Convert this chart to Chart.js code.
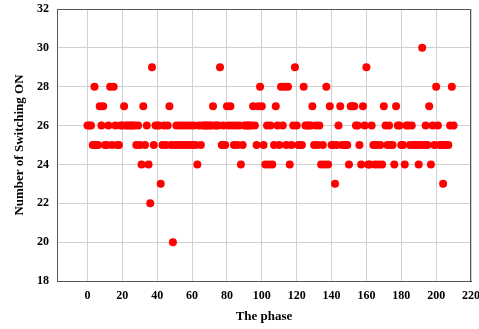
<!DOCTYPE html>
<html>
<head>
<meta charset="utf-8">
<script src="https://cdn.jsdelivr.net/npm/chart.js@4.4.1/dist/chart.umd.min.js"></script>
<style>
  html, body { margin: 0; padding: 0; background: #fff; }
  #wrap { width: 479px; height: 329px; }
</style>
</head>
<body>
<div id="wrap"><canvas id="chart" width="479" height="329"></canvas></div>
<script>
// Number of switching ON for each phase (phase = index 0..210)
const switchingOn = [
  26, 26, 26, 25, 28, 25, 25, 27, 26, 27, 25, 25, 26, 28, 25, 28, 26, 25, 25, 26,
  26, 27, 26, 26, 26, 26, 26, 26, 25, 26, 25, 24, 27, 25, 26, 24, 22, 29, 25, 26,
  26, 26, 23, 25, 26, 25, 26, 27, 25, 20, 25, 26, 25, 26, 25, 26, 25, 26, 25, 26,
  25, 26, 25, 24, 26, 25, 26, 26, 26, 26, 26, 26, 27, 26, 26, 26, 29, 25, 26, 25,
  27, 26, 27, 26, 25, 26, 25, 26, 24, 25, 26, 26, 26, 26, 26, 27, 26, 25, 27, 28,
  27, 25, 24, 26, 24, 26, 24, 25, 27, 26, 25, 28, 26, 28, 25, 28, 24, 25, 26, 29,
  26, 25, 25, 25, 28, 26, 26, 26, 26, 27, 25, 26, 25, 26, 24, 25, 24, 28, 24, 27,
  25, 25, 23, 25, 26, 27, 25, 25, 25, 25, 24, 27, 27, 27, 26, 26, 25, 24, 27, 26,
  29, 24, 24, 26, 25, 24, 25, 24, 25, 24, 27, 26, 25, 26, 25, 25, 24, 27, 26, 26,
  25, 25, 24, 26, 26, 25, 26, 25, 25, 25, 24, 25, 30, 25, 26, 25, 27, 24, 26, 25,
  28, 26, 25, 25, 23, 25, 25, 25, 26, 28, 26
];

const xTicks = [0, 20, 40, 60, 80, 100, 120, 140, 160, 180, 200, 220];
const yTicks = [18, 20, 22, 24, 26, 28, 30, 32];

const points = switchingOn.map((v, i) => ({ x: i, y: v }));

const tickFont = { family: "'Liberation Serif', 'Times New Roman', serif", size: 12, weight: 'bold' };
const titleFont = { family: "'Liberation Serif', 'Times New Roman', serif", size: 13, weight: 'bold' };

new Chart(document.getElementById('chart'), {
    type: 'scatter',
    data: {
        datasets: [{
            data: points,
            backgroundColor: '#ff0000',
            borderWidth: 0,
            pointRadius: 4,
            pointHoverRadius: 4
        }]
    },
    options: {
        responsive: false,
        animation: false,
        layout: { padding: { left: 8, right: 8, top: 9, bottom: 0 } },
        plugins: {
            legend: { display: false },
            tooltip: { enabled: false }
        },
        scales: {
            x: {
                type: 'linear',
                min: -17.5,
                max: 220,
                afterBuildTicks: axis => { axis.ticks = xTicks.map(v => ({ value: v })); },
                afterFit: axis => {
                    axis.height = 48;
                    axis.paddingLeft = 0;
                    axis.paddingRight = 0;
                },
                border: { color: '#333', width: 1 },
                grid: { color: '#d0d0d0', lineWidth: 1, drawTicks: false },
                ticks: { color: '#000', font: tickFont, padding: 8, maxRotation: 0 },
                title: { display: true, text: 'The phase', color: '#000', font: titleFont, padding: { top: 12, bottom: 5 } }
            },
            y: {
                min: 18,
                max: 32,
                afterBuildTicks: axis => { axis.ticks = yTicks.map(v => ({ value: v })); },
                afterFit: axis => {
                    axis.width = 49;
                    axis.paddingTop = 0;
                    axis.paddingBottom = 0;
                },
                border: { color: '#333', width: 1 },
                grid: { color: '#d0d0d0', lineWidth: 1, drawTicks: false },
                ticks: { color: '#000', font: tickFont, padding: 8 },
                title: { display: true, text: 'Number of Switching ON', color: '#000', font: titleFont, padding: { bottom: 4 } }
            }
        }
    },
    plugins: [{
        id: 'frame',
        afterDraw(chart) {
            const { ctx, chartArea: a } = chart;
            ctx.save();
            ctx.strokeStyle = '#555';
            ctx.lineWidth = 1;
            ctx.strokeRect(a.left + 0.5, a.top + 0.5, a.right - a.left - 1, a.bottom - a.top);
            ctx.restore();
        }
    }]
});
</script>
</body>
</html>
